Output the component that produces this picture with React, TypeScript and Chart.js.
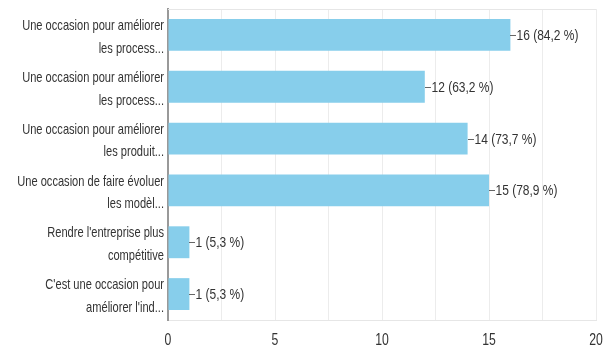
import React, { useEffect, useRef } from "react";
import { Chart, registerables } from "chart.js";

Chart.register(...registerables);

const categories: string[][] = [
  ["Une occasion pour améliorer", "les process..."],
  ["Une occasion pour améliorer", "les process..."],
  ["Une occasion pour améliorer", "les produit..."],
  ["Une occasion de faire évoluer", "les modèl..."],
  ["Rendre l'entreprise plus", "compétitive"],
  ["C'est une occasion pour", "améliorer l'ind..."],
];
const counts: number[] = [16, 12, 14, 15, 1, 1];
const valueLabels: string[] = [
  "16 (84,2 %)",
  "12 (63,2 %)",
  "14 (73,7 %)",
  "15 (78,9 %)",
  "1 (5,3 %)",
  "1 (5,3 %)",
];
const xTickLabels: number[] = [0, 5, 10, 15, 20];

const FONT = "'Liberation Sans', Arial, sans-serif";

function narrowText(
  ctx: CanvasRenderingContext2D,
  text: string,
  x: number,
  y: number,
  align: "left" | "right" | "center",
  sx: number
) {
  ctx.save();
  ctx.translate(x, y);
  ctx.scale(sx, 1);
  ctx.textAlign = align;
  ctx.fillText(text, 0, 0);
  ctx.restore();
}

const labelPlugin = {
  id: "valueLabels",
  afterDraw(chart: any) {
    const ctx = chart.ctx as CanvasRenderingContext2D;
    const meta = chart.getDatasetMeta(0);
    const area = chart.chartArea;
    const yScale = chart.scales.y;
    const xScale = chart.scales.x;
    ctx.save();
    ctx.strokeStyle = "#e6e6e6";
    ctx.lineWidth = 1;
    ctx.beginPath();
    ctx.moveTo(area.left, area.top + 0.5);
    ctx.lineTo(area.right, area.top + 0.5);
    ctx.stroke();

    ctx.fillStyle = "#333";
    ctx.textBaseline = "middle";

    ctx.font = `15px ${FONT}`;
    meta.data.forEach((bar: any, i: number) => {
      const x = Math.round(bar.x);
      const y = Math.round(bar.y) + 0.5;
      ctx.strokeStyle = "#666";
      ctx.lineWidth = 1;
      ctx.beginPath();
      ctx.moveTo(x, y);
      ctx.lineTo(x + 6, y);
      ctx.stroke();
      narrowText(ctx, valueLabels[i], x + 6.5, y, "left", 0.8);
    });

    ctx.font = `14.5px ${FONT}`;
    categories.forEach((lines, i) => {
      const cy = yScale.getPixelForValue(i) + 2.5;
      const n = lines.length;
      lines.forEach((ln, j) => {
        const yy = cy + (j - (n - 1) / 2) * 22.7;
        narrowText(ctx, ln, area.left - 4, yy, "right", 0.765);
      });
    });

    ctx.font = `17px ${FONT}`;
    xTickLabels.forEach((v) => {
      narrowText(ctx, String(v), xScale.getPixelForValue(v), area.bottom + 20, "center", 0.72);
    });
    ctx.restore();
  },
};

export default function App() {
  const ref = useRef<HTMLCanvasElement | null>(null);
  useEffect(() => {
    if (!ref.current) return;
    const chart = new Chart(ref.current, {
      type: "bar",
      data: {
        labels: categories.map((c) => c.join(" ")),
        datasets: [
          {
            data: counts,
            backgroundColor: "#87ceeb",
            borderWidth: 0,
            categoryPercentage: 1,
            barPercentage: 0.615,
          },
        ],
      },
      options: {
        indexAxis: "y",
        animation: false,
        responsive: false,
        maintainAspectRatio: false,
        layout: { padding: { top: 9, right: 19, bottom: 0, left: 0 } },
        plugins: { legend: { display: false }, tooltip: { enabled: false } },
        scales: {
          x: {
            min: 0,
            max: 20,
            ticks: {
              stepSize: 2.5,
              autoSkip: false,
              maxRotation: 0,
              display: true,
              color: "rgba(0,0,0,0)",
              font: { size: 1 },
              callback: () => "",
            },
            grid: { color: "#ececec", drawTicks: false },
            border: { color: "#e6e6e6" },
            afterFit: (s: any) => {
              s.height = 29;
            },
          },
          y: {
            ticks: { display: false, autoSkip: false },
            grid: { display: false, drawTicks: false },
            border: { color: "#999", width: 2 },
            afterFit: (s: any) => {
              s.width = 168;
            },
          },
        },
      },
      plugins: [labelPlugin],
    });
    return () => chart.destroy();
  }, []);
  return (
    <div style={{ position: "fixed", left: 0, top: 0, width: 615, height: 349, background: "#fff" }}>
      <canvas ref={ref} width={615} height={349} />
    </div>
  );
}
